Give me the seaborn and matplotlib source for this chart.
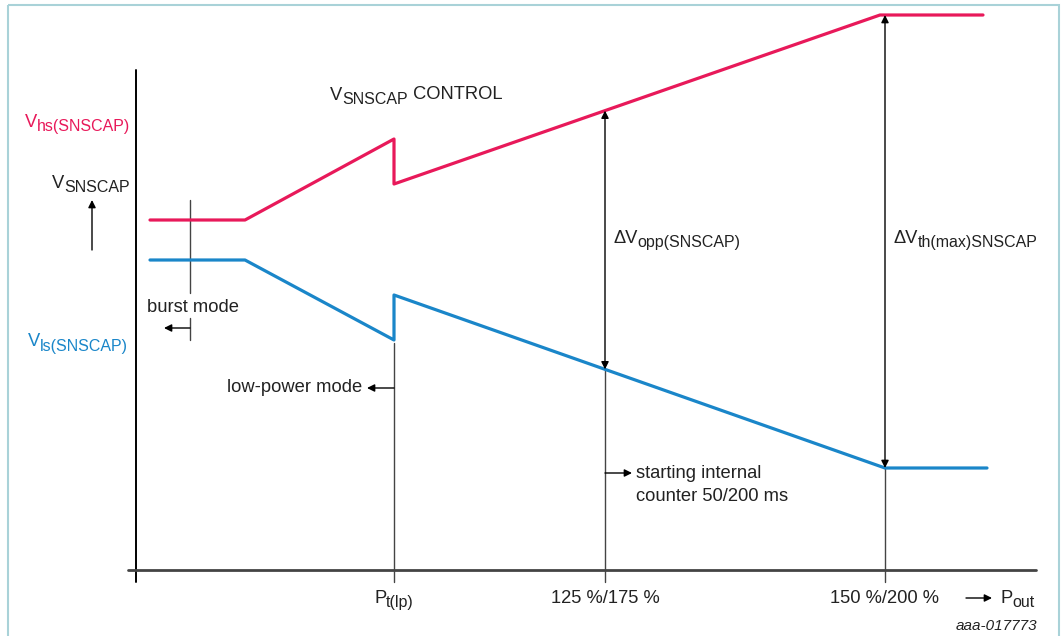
import numpy as np
import pandas as pd
import seaborn as sns
import matplotlib.pyplot as plt
from matplotlib.patches import Rectangle

# curve vertices (pixel units, y grows downward)
hs_x = [150, 245, 394, 394, 880, 983]
hs_y = [220, 220, 139, 184, 15, 15]
ls_x = [150, 245, 394, 394, 885, 987]
ls_y = [260, 260, 340, 295, 468, 468]

# x positions of the marked operating points
p_burst = 190
p_tlp = 394
p_125 = 605
p_150 = 885
tick_labels = ["125 %/175 %", "150 %/200 %"]

red = "#e8195a"
blue = "#1a86c9"
ink = "#222222"
fs = 13.2
fs_sub = 11.5

sns.set_theme(style="white")
plt.rcParams["font.family"] = ["Liberation Sans", "DejaVu Sans"]

fig = plt.figure(figsize=(10.64, 6.36), dpi=100)
ax = fig.add_axes([0, 0, 1, 1])
ax.set_xlim(0, 1064)
ax.set_ylim(636, 0)
ax.axis("off")


def label(x, y, main, sub, color=ink, right=False, tail=None):
    # main text with a lowered subscript, like the datasheet labels
    if right:
        s = ax.text(x, y + 3.5, sub, fontsize=fs_sub, ha="right", va="baseline", color=color)
        ax.annotate(main, xy=(0, 0), xycoords=s, xytext=(0, 2.3), textcoords="offset points",
                    fontsize=fs, ha="right", va="bottom", color=color)
        return
    m = ax.text(x, y, main, fontsize=fs, ha="left", va="baseline", color=color)
    s = ax.annotate(sub, xy=(1, 0), xycoords=m, xytext=(0, -2.2), textcoords="offset points",
                    fontsize=fs_sub, ha="left", va="bottom", color=color)
    if tail:
        ax.annotate(tail, xy=(1, 0), xycoords=s, xytext=(0, 2.3), textcoords="offset points",
                    fontsize=fs, ha="left", va="bottom", color=color)


# frame
ax.add_patch(Rectangle((8, 5), 1051, 640, fill=False, ec="#a9d2d8", lw=1.5, clip_on=False))

df = pd.DataFrame({
    "x": hs_x + ls_x,
    "y": hs_y + ls_y,
    "curve": ["hs"] * len(hs_x) + ["ls"] * len(ls_x),
})
sns.lineplot(data=df, x="x", y="y", hue="curve", palette={"hs": red, "ls": blue},
             sort=False, estimator=None, lw=2.3, legend=False, ax=ax, zorder=3)

# axes
ax.plot([136, 136], [70, 582], color="black", lw=1.4)
ax.plot([128, 1036], [570, 570], color="#444444", lw=2)

arrow = dict(arrowstyle="-|>", color="black", lw=1, mutation_scale=11, shrinkA=0, shrinkB=0)
darrow = dict(arrowstyle="<|-|>", color="black", lw=1, mutation_scale=11, shrinkA=0, shrinkB=0)

# burst mode marker
ax.plot([p_burst, p_burst], [200, 293], color="#444444", lw=1)
ax.plot([p_burst, p_burst], [318, 340], color="#444444", lw=1)
ax.annotate("", xy=(164, 328), xytext=(p_burst, 328), arrowprops=arrow)
ax.text(147, 311.5, "burst mode", fontsize=fs, ha="left", va="baseline", color=ink)

# low-power mode marker
ax.plot([p_tlp, p_tlp], [343, 582], color="#444444", lw=1)
ax.annotate("", xy=(367, 388), xytext=(p_tlp, 388), arrowprops=arrow)
ax.text(362, 392.5, "low-power mode", fontsize=fs, ha="right", va="baseline", color=ink)

# 125 %/175 % marker with opposite-voltage span
top125 = np.interp(p_125, hs_x[3:], hs_y[3:])
bot125 = np.interp(p_125, ls_x[3:], ls_y[3:])
ax.annotate("", xy=(p_125, top125), xytext=(p_125, bot125), arrowprops=darrow)
ax.plot([p_125, p_125], [bot125, 582], color="#444444", lw=1)
ax.annotate("", xy=(632, 473), xytext=(p_125, 473), arrowprops=arrow)
ax.text(636, 478.3, "starting internal", fontsize=fs, ha="left", va="baseline", color=ink)
ax.text(636, 501, "counter 50/200 ms", fontsize=fs, ha="left", va="baseline", color=ink)
label(613, 243.3, "\u0394V", "opp(SNSCAP)")

# 150 %/200 % marker with max threshold span
top150 = np.interp(p_150, hs_x[3:], hs_y[3:])
bot150 = np.interp(p_150, ls_x[3:], ls_y[3:])
ax.annotate("", xy=(p_150, top150), xytext=(p_150, bot150), arrowprops=darrow)
ax.plot([p_150, p_150], [bot150, 582], color="#444444", lw=1)
label(893, 243.3, "\u0394V", "th(max)SNSCAP")

# x labels
label(374, 603.3, "P", "t(lp)")
for xp, lab in zip([p_125, p_150], tick_labels):
    ax.text(xp, 603.3, lab, fontsize=fs, ha="center", va="baseline", color=ink)
ax.annotate("", xy=(992, 598), xytext=(966, 598), arrowprops=arrow)
label(1000, 603.3, "P", "out")

# y labels
label(130, 127.5, "V", "hs(SNSCAP)", color=red, right=True)
label(130, 188.5, "V", "SNSCAP", right=True)
ax.annotate("", xy=(92, 200), xytext=(92, 250), arrowprops=arrow)
label(128, 347, "V", "ls(SNSCAP)", color=blue, right=True)

label(330, 99.5, "V", "SNSCAP", tail=" CONTROL")
ax.text(1037, 630, "aaa-017773", fontsize=11, style="italic", ha="right", va="baseline", color=ink)

fig.savefig("out.png", dpi=100)
